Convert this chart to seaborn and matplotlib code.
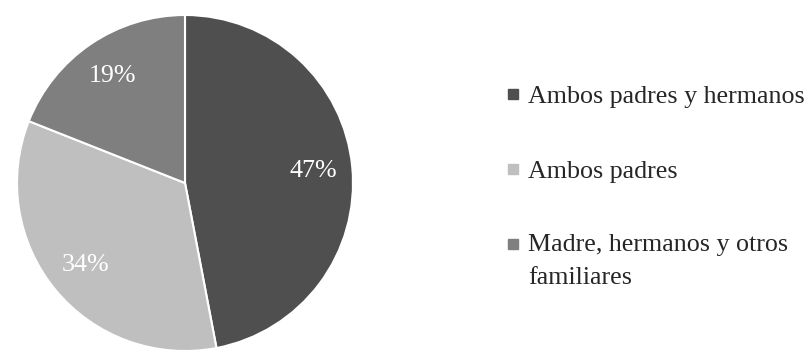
import matplotlib
matplotlib.use("Agg")
import matplotlib.pyplot as plt
import seaborn as sns
from matplotlib.lines import Line2D
from matplotlib.legend_handler import HandlerLine2D

categories = ["Ambos padres y hermanos", "Ambos padres", "Madre, hermanos y otros\nfamiliares"]
values = [47, 34, 19]
colors = ["#4f4f4f", "#bfbfbf", "#7f7f7f"]

sns.set_theme(style="white")
plt.rcParams["font.family"] = ["Liberation Serif", "DejaVu Serif"]

fig = plt.figure(figsize=(8.11, 3.53), dpi=100)
ax = fig.add_axes([185/811 - 168/811, (353 - 183 - 168)/353, 336/811, 336/353])

wedges, texts, autotexts = ax.pie(
    values, colors=colors, startangle=90, counterclock=False,
    autopct=lambda p: f"{p:.0f}%", pctdistance=0.77,
    wedgeprops=dict(edgecolor="white", linewidth=1.5),
    textprops=dict(color="white", fontsize=18.7),
)
for w in wedges:
    w.set_clip_on(False)
ax.set_xlim(-1, 1)
ax.set_ylim(-1, 1)
ax.set_aspect("equal")


class TopLineHandler(HandlerLine2D):
    """Align the marker with the first line of a two-line label."""
    def __init__(self, shift, **kw):
        super().__init__(**kw)
        self.shift = shift

    def create_artists(self, legend, orig_handle, xdescent, ydescent, width,
                       height, fontsize, trans):
        return super().create_artists(legend, orig_handle, xdescent,
                                      ydescent - 2 * self.shift, width, height,
                                      fontsize, trans)


handles = [Line2D([0], [0], marker="s", linestyle="none", markersize=7.5,
                  markerfacecolor=c, markeredgecolor=c) for c in colors]
leg = fig.legend(handles, categories, loc="upper left", bbox_to_anchor=(505/811, 1 - 85/353),
                 frameon=False, fontsize=18.7, handlelength=0.6, handletextpad=0.3,
                 labelspacing=1.98, borderaxespad=0, borderpad=0,
                 handler_map={handles[2]: TopLineHandler(shift=12.5)})
for t in leg.get_texts():
    t.set_linespacing(1.62)

fig.savefig("out.png", dpi=100)
